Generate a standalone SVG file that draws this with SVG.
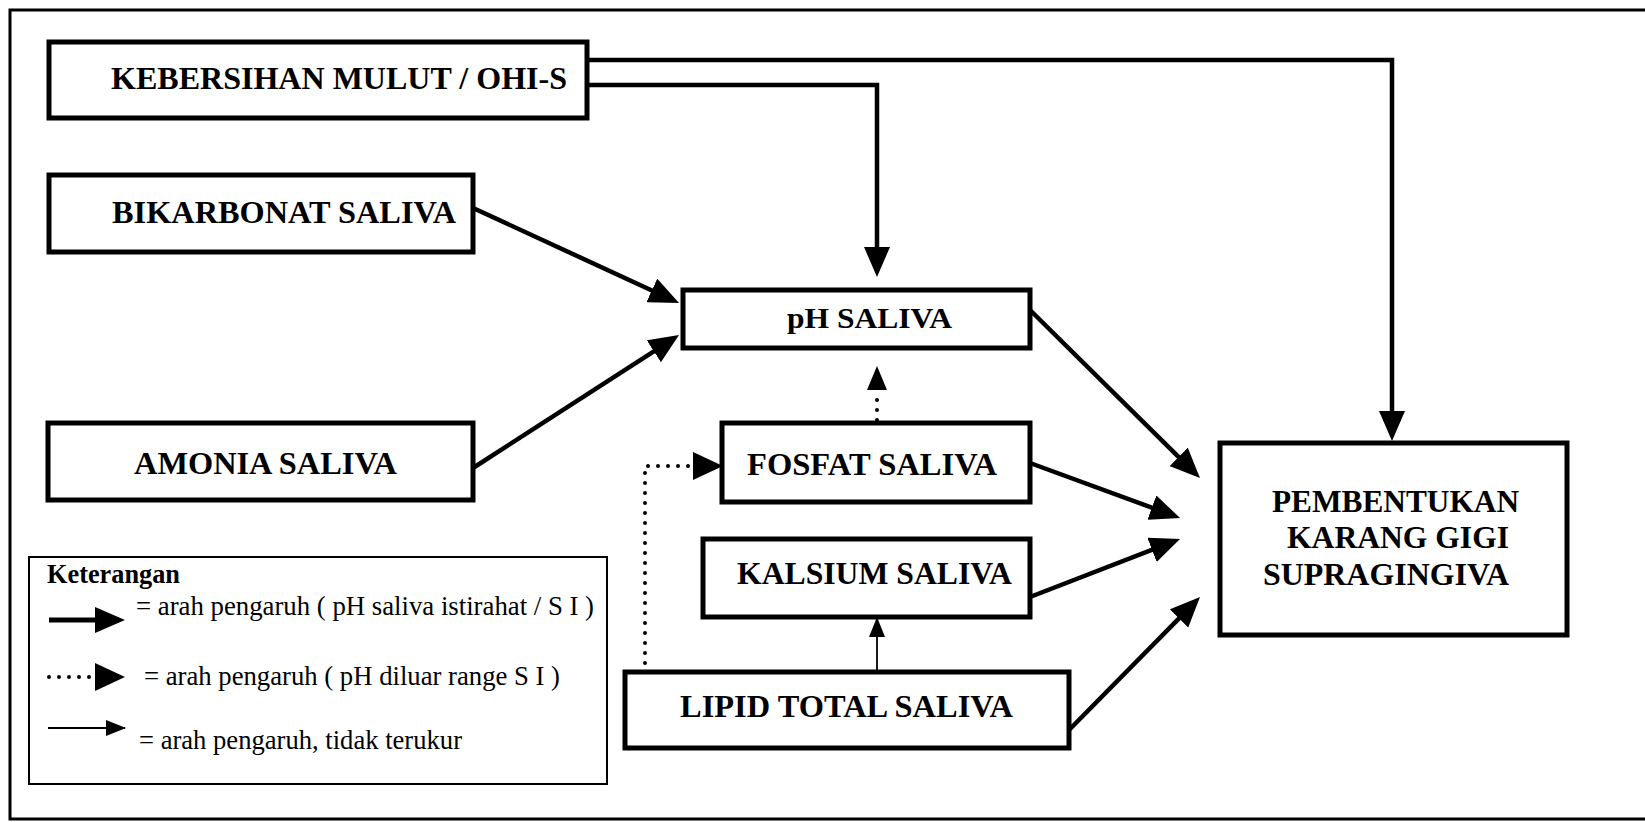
<svg xmlns="http://www.w3.org/2000/svg" width="1645" height="822" viewBox="0 0 1645 822">
<style>
.box{fill:#fff;stroke:#000;stroke-width:5}
.t{font-family:"Liberation Serif","Times New Roman",serif;font-weight:bold;font-size:32px;fill:#000}
.lg{font-family:"Liberation Serif","Times New Roman",serif;font-size:27px;fill:#000}
.thick{fill:none;stroke:#000;stroke-width:4.5}
.thin{fill:none;stroke:#000;stroke-width:1.8}
.dot{fill:none;stroke:#000;stroke-width:4;stroke-linecap:round;stroke-dasharray:0 10}
</style>
<defs>
<marker id="ah" markerUnits="userSpaceOnUse" markerWidth="30" markerHeight="26" refX="24" refY="13" orient="auto"><path d="M0,0 L30,13 L0,26 z" fill="#000"/></marker>
<marker id="ahd" markerUnits="userSpaceOnUse" markerWidth="30" markerHeight="28" refX="0" refY="14" orient="auto"><path d="M0,0 L30,14 L0,28 z" fill="#000"/></marker>
<marker id="ahs" markerUnits="userSpaceOnUse" markerWidth="24" markerHeight="20" refX="0" refY="10" orient="auto"><path d="M0,0 L24,10 L0,20 z" fill="#000"/></marker>
<marker id="aht" markerUnits="userSpaceOnUse" markerWidth="20" markerHeight="16" refX="19" refY="8" orient="auto"><path d="M0,0 L20,8 L0,16 z" fill="#000"/></marker>
</defs>
<rect width="1645" height="822" fill="#fff"/>
<path d="M1650,10 H10 V819 H1650" fill="none" stroke="#000" stroke-width="3"/>

<g id="connectors">
<path class="thick" d="M587,60 H1392 V435" marker-end="url(#ah)"/>
<path class="thick" d="M587,85 H877 V271" marker-end="url(#ah)"/>
<path class="thick" d="M473,208 L673.6,300.5" marker-end="url(#ah)"/>
<path class="thick" d="M473,468 L674,338.3" marker-end="url(#ah)"/>
<path class="thick" d="M1030,310 L1195.7,473.8" marker-end="url(#ah)"/>
<path class="thick" d="M1030,463 L1174.4,515.9" marker-end="url(#ah)"/>
<path class="thick" d="M1030,597 L1174.4,541.2" marker-end="url(#ah)"/>
<path class="thick" d="M1069,730 L1195.8,601.3" marker-end="url(#ah)"/>
<path class="dot" d="M877,420 V390" marker-end="url(#ahs)"/>
<path class="dot" d="M645,663 V466 H693" marker-end="url(#ahd)"/>
<path class="thin" d="M877,672 V618" marker-end="url(#aht)"/>
</g>

<g id="n-kebersihan"><rect class="box" x="49" y="42" width="538" height="76"/><text class="t" x="111" y="89" textLength="456" lengthAdjust="spacingAndGlyphs">KEBERSIHAN MULUT / OHI-S</text></g>
<g id="n-bikarbonat"><rect class="box" x="49" y="175" width="424" height="77"/><text class="t" x="112" y="223" textLength="344" lengthAdjust="spacingAndGlyphs">BIKARBONAT SALIVA</text></g>
<g id="n-amonia"><rect class="box" x="48" y="423" width="425" height="77"/><text class="t" x="134" y="474" textLength="263" lengthAdjust="spacingAndGlyphs">AMONIA SALIVA</text></g>
<g id="n-ph"><rect class="box" x="683" y="290" width="347" height="58"/><text class="t" x="787" y="328" style="font-size:29px" textLength="165" lengthAdjust="spacingAndGlyphs">pH SALIVA</text></g>
<g id="n-fosfat"><rect class="box" x="722" y="423" width="308" height="79"/><text class="t" x="747" y="475" textLength="250" lengthAdjust="spacingAndGlyphs">FOSFAT SALIVA</text></g>
<g id="n-kalsium"><rect class="box" x="703" y="539" width="327" height="78"/><text class="t" x="737" y="584" textLength="275" lengthAdjust="spacingAndGlyphs">KALSIUM SALIVA</text></g>
<g id="n-lipid"><rect class="box" x="625" y="672" width="444" height="76"/><text class="t" x="680" y="717" textLength="333" lengthAdjust="spacingAndGlyphs">LIPID TOTAL SALIVA</text></g>
<g id="n-pembentukan"><rect class="box" x="1220" y="443" width="347" height="192"/>
<text class="t" x="1272" y="512" textLength="247" lengthAdjust="spacingAndGlyphs">PEMBENTUKAN</text>
<text class="t" x="1287" y="548" textLength="222" lengthAdjust="spacingAndGlyphs">KARANG GIGI</text>
<text class="t" x="1263" y="585" textLength="246" lengthAdjust="spacingAndGlyphs">SUPRAGINGIVA</text></g>

<g id="legend">
<rect x="29" y="557" width="578" height="227" fill="#fff" stroke="#000" stroke-width="2"/>
<text class="lg" x="47" y="583" style="font-weight:bold;font-size:28px" textLength="133" lengthAdjust="spacingAndGlyphs">Keterangan</text>
<path class="thick" d="M49,620 H119" style="stroke-width:5" marker-end="url(#ah)"/>
<text class="lg" x="136" y="615" textLength="458" lengthAdjust="spacingAndGlyphs">= arah pengaruh ( pH saliva istirahat / S I )</text>
<path class="dot" d="M49,677 H95" marker-end="url(#ahd)"/>
<text class="lg" x="144" y="685" textLength="416" lengthAdjust="spacingAndGlyphs">= arah pengaruh ( pH diluar range S I )</text>
<path class="thin" d="M48,728 H125" marker-end="url(#aht)"/>
<text class="lg" x="139" y="749" textLength="323" lengthAdjust="spacingAndGlyphs">= arah pengaruh, tidak terukur</text>
</g>
</svg>
